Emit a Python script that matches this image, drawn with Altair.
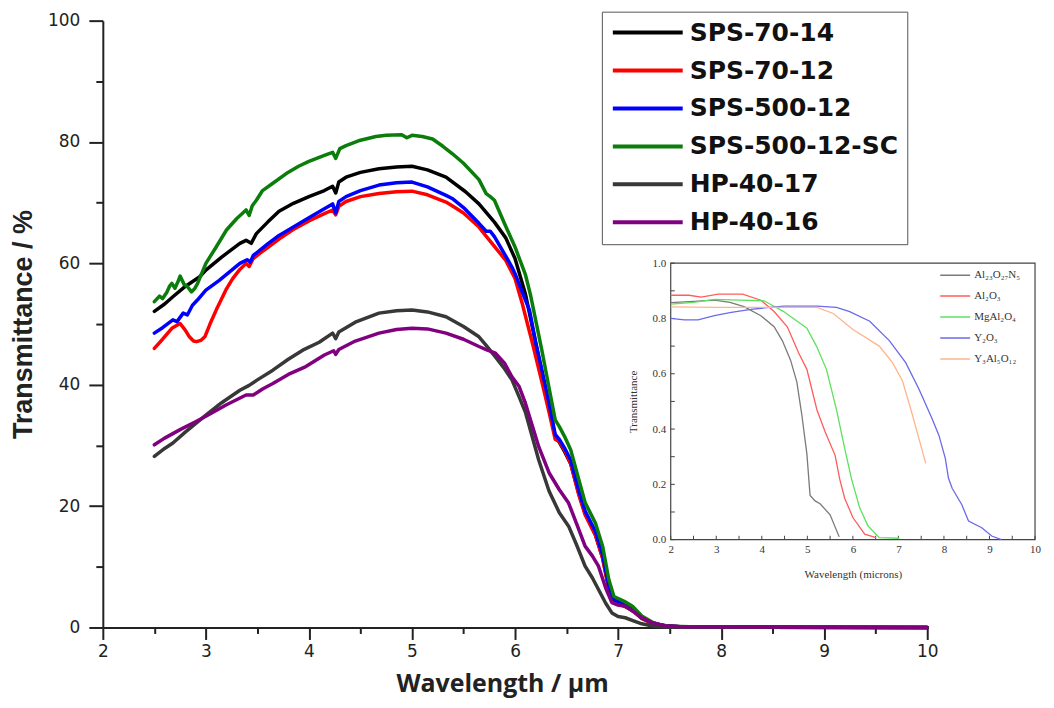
import altair as alt
import pandas as pd

# ---------------- main chart data ----------------
series_names = ["SPS-70-14", "SPS-70-12", "SPS-500-12", "SPS-500-12-SC", "HP-40-17", "HP-40-16"]
series_colors = ["#000000", "#ff0000", "#0000ff", "#0b7d0b", "#383838", "#800080"]

wl_sps_70_14 = [2.5, 2.6, 2.68, 2.8, 2.94, 3.0, 3.15, 3.33, 3.39, 3.44, 3.49, 3.6, 3.71, 3.85, 4.0, 4.15, 4.23, 4.26, 4.29,
                4.36, 4.5, 4.68, 4.85, 5.0, 5.15, 5.33, 5.52, 5.65, 5.8, 5.91, 6.0, 6.1, 6.2, 6.26, 6.33, 6.39, 6.43, 6.48,
                6.54, 6.62, 6.68, 6.78, 6.85, 6.91, 6.96, 7.06, 7.14, 7.23, 7.33, 7.45, 7.6, 8.0, 10.0]
t_sps_70_14 = [52.1, 53.3, 54.5, 56.2, 57.8, 58.9, 61.0, 63.3, 63.8, 63.3, 64.9, 66.8, 68.6, 69.9, 71.0, 72.0, 72.7, 71.6, 73.4,
               74.2, 75.0, 75.6, 75.9, 76.0, 75.4, 74.2, 71.8, 69.8, 66.8, 64.2, 60.8, 55.0, 47.0, 42.0, 36.5, 31.5, 30.5, 29.0,
               27.0, 22.0, 18.8, 15.3, 11.5, 6.4, 4.3, 3.6, 2.9, 1.5, 0.7, 0.3, 0.1, 0.05, 0.0]

wl_sps_70_12 = [2.5, 2.58, 2.67, 2.72, 2.75, 2.8, 2.84, 2.88, 2.91, 2.95, 2.99, 3.04, 3.1, 3.2, 3.26, 3.33, 3.39, 3.42, 3.46,
                3.52, 3.6, 3.71, 3.84, 4.0, 4.15, 4.23, 4.26, 4.29, 4.36, 4.5, 4.68, 4.85, 5.0, 5.15, 5.33, 5.39, 5.5, 5.65,
                5.68, 5.8, 5.91, 6.0, 6.07, 6.1, 6.17, 6.26, 6.33, 6.39, 6.43, 6.48, 6.54, 6.62, 6.68, 6.78, 6.85, 6.91,
                6.96, 7.06, 7.14, 7.23, 7.33, 7.45, 7.6, 8.0, 10.0]
t_sps_70_12 = [46.0, 47.5, 49.3, 49.8, 50.1, 49.0, 47.9, 47.2, 47.1, 47.3, 47.9, 50.0, 52.3, 55.8, 57.5, 59.0, 60.0, 59.5, 60.8,
               61.6, 62.6, 64.0, 65.5, 67.0, 68.2, 68.8, 68.0, 69.4, 70.2, 71.0, 71.5, 71.8, 71.9, 71.3, 70.1, 69.5, 68.3, 66.0,
               65.3, 62.8, 60.5, 57.5, 53.4, 51.4, 46.8, 40.5, 35.5, 31.0, 30.6, 29.3, 27.0, 21.8, 18.6, 15.2, 11.4, 6.4,
               4.3, 3.5, 2.8, 1.5, 0.7, 0.3, 0.1, 0.05, 0.0]

wl_sps_500_12 = [2.5, 2.58, 2.68, 2.72, 2.78, 2.82, 2.87, 2.92, 3.0, 3.13, 3.33, 3.4, 3.43, 3.46, 3.6, 3.71, 3.78, 4.0, 4.15,
                 4.23, 4.26, 4.29, 4.36, 4.5, 4.68, 4.85, 5.0, 5.15, 5.33, 5.39, 5.5, 5.65, 5.72, 5.76, 5.8, 5.9, 5.97, 6.0,
                 6.1, 6.14, 6.2, 6.26, 6.33, 6.39, 6.43, 6.48, 6.54, 6.62, 6.68, 6.78, 6.85, 6.91, 6.96, 7.06, 7.14, 7.23,
                 7.33, 7.45, 7.6, 8.0, 10.0]
t_sps_500_12 = [48.5, 49.4, 50.7, 50.4, 51.8, 51.5, 53.1, 54.0, 55.6, 57.2, 60.0, 60.6, 60.2, 61.3, 63.2, 64.6, 65.3, 67.5, 69.0,
                69.8, 68.3, 70.2, 71.0, 72.0, 72.9, 73.3, 73.4, 72.6, 71.2, 70.7, 69.2, 66.6, 65.3, 65.3, 64.4, 61.5, 59.4, 58.3,
                54.0, 52.3, 47.0, 42.5, 37.0, 31.8, 31.0, 29.6, 27.6, 22.5, 19.2, 15.8, 12.0, 6.8, 4.6, 3.8, 3.1, 1.6,
                0.8, 0.3, 0.1, 0.05, 0.0]

wl_sps_500_12_sc = [2.5, 2.55, 2.58, 2.62, 2.65, 2.67, 2.7, 2.73, 2.75, 2.79, 2.82, 2.86, 2.89, 2.92, 3.0, 3.1, 3.2, 3.3, 3.39,
                    3.42, 3.45, 3.49, 3.55, 3.65, 3.78, 3.9, 4.0, 4.15, 4.23, 4.26, 4.3, 4.36, 4.5, 4.65, 4.75, 4.9, 4.95,
                    5.0, 5.1, 5.2, 5.3, 5.39, 5.5, 5.65, 5.72, 5.76, 5.8, 5.9, 6.0, 6.1, 6.15, 6.2, 6.26, 6.33, 6.39, 6.43, 6.48,
                    6.54, 6.62, 6.68, 6.78, 6.85, 6.91, 6.96, 7.06, 7.14, 7.23, 7.33, 7.39, 7.5, 7.7, 8.0, 10.0]
t_sps_500_12_sc = [53.7, 54.6, 54.2, 55.2, 56.3, 56.7, 55.9, 57.0, 57.9, 56.5, 56.2, 55.3, 55.8, 56.7, 60.0, 62.7, 65.5, 67.4, 68.8,
                   67.9, 69.5, 70.4, 72.0, 73.2, 74.8, 76.0, 76.8, 77.8, 78.3, 77.3, 78.9, 79.4, 80.3, 80.9, 81.1, 81.2, 80.7,
                   81.1, 80.9, 80.5, 79.3, 78.1, 76.5, 73.8, 71.5, 71.0, 70.4, 66.5, 62.7, 58.2, 54.8, 50.7, 45.7, 39.5, 34.2, 33.1, 31.5,
                   29.3, 24.3, 20.6, 17.2, 13.4, 7.9, 5.1, 4.3, 3.5, 1.9, 0.9, 0.5, 0.2, 0.1, 0.05, 0.0]

wl_hp_40_17 = [2.5, 2.6, 2.68, 2.8, 2.9, 3.0, 3.15, 3.33, 3.42, 3.5, 3.65, 3.8, 3.94, 4.1, 4.23, 4.26, 4.29, 4.45, 4.68, 4.85,
               5.0, 5.15, 5.33, 5.5, 5.65, 5.72, 5.8, 5.9, 5.97, 6.04, 6.1, 6.23, 6.33, 6.43, 6.52, 6.6, 6.68, 6.75, 6.81,
               6.88, 6.94, 7.0, 7.07, 7.15, 7.23, 7.35, 7.5, 10.0]
t_hp_40_17 = [28.2, 29.5, 30.4, 32.2, 33.6, 35.0, 37.0, 39.1, 39.9, 40.8, 42.4, 44.2, 45.7, 47.0, 48.5, 47.6, 48.7, 50.3, 51.8, 52.2,
              52.3, 52.0, 51.2, 49.6, 47.9, 46.5, 44.8, 42.6, 40.8, 38.0, 35.5, 27.6, 22.5, 18.9, 16.7, 13.5, 10.1, 8.2, 6.25,
              4.0, 2.4, 1.8, 1.6, 1.1, 0.6, 0.2, 0.05, 0.0]

wl_hp_40_16 = [2.5, 2.6, 2.75, 2.9, 3.0, 3.2, 3.39, 3.46, 3.55, 3.65, 3.8, 3.97, 4.15, 4.24, 4.26, 4.29, 4.45, 4.68, 4.85, 5.0,
               5.15, 5.33, 5.5, 5.65, 5.72, 5.81, 5.9, 5.97, 6.04, 6.1, 6.23, 6.33, 6.43, 6.52, 6.6, 6.68, 6.75, 6.81, 6.88,
               6.94, 7.0, 7.07, 7.15, 7.23, 7.33, 7.45, 7.6, 10.0]
t_hp_40_16 = [30.1, 31.2, 32.6, 33.9, 34.8, 36.7, 38.3, 38.3, 39.3, 40.2, 41.7, 43.0, 44.9, 45.6, 45.0, 45.8, 47.2, 48.5, 49.1, 49.3,
              49.2, 48.5, 47.5, 46.3, 45.8, 45.2, 43.5, 41.3, 39.7, 37.0, 29.8, 25.5, 22.7, 20.5, 17.0, 13.4, 11.8, 10.1, 6.5,
              4.1, 3.7, 3.5, 2.6, 1.6, 0.8, 0.3, 0.1, 0.0]

main_x = [wl_sps_70_14, wl_sps_70_12, wl_sps_500_12, wl_sps_500_12_sc, wl_hp_40_17, wl_hp_40_16]
main_y = [t_sps_70_14, t_sps_70_12, t_sps_500_12, t_sps_500_12_sc, t_hp_40_17, t_hp_40_16]

x_tick_values = [2 + 0.5 * i for i in range(17)]
y_tick_values = [10 * i for i in range(11)]

# ---------------- inset data ----------------
inset_names = ["Al\u2082\u2083O\u2082\u2087N\u2085", "Al\u2082O\u2083", "MgAl\u2082O\u2084", "Y\u2082O\u2083", "Y\u2083Al\u2085O\u2081\u2082"]
inset_colors = ["#7a7a7a", "#ff5c5c", "#5ee05e", "#6a6aea", "#ffb48c"]

wl_alon = [2.0, 2.5, 2.96, 3.3, 3.61, 3.98, 4.27, 4.45, 4.63, 4.77, 4.88, 4.99, 5.06, 5.17, 5.28, 5.5, 5.70]
t_alon = [0.857, 0.862, 0.866, 0.858, 0.843, 0.81, 0.77, 0.72, 0.65, 0.57, 0.45, 0.31, 0.16, 0.14, 0.13, 0.09, 0.01]
wl_al2o3 = [2.0, 2.4, 2.67, 3.04, 3.58, 3.98, 4.27, 4.56, 4.81, 4.99, 5.21, 5.39, 5.61, 5.71, 5.82, 6.0, 6.26, 6.51]
t_al2o3 = [0.884, 0.884, 0.877, 0.888, 0.888, 0.866, 0.825, 0.77, 0.675, 0.616, 0.47, 0.39, 0.305, 0.22, 0.15, 0.08, 0.02, 0.007]
wl_spinel = [2.0, 2.5, 2.96, 3.5, 4.05, 4.48, 4.99, 5.2, 5.42, 5.64, 5.82, 5.97, 6.15, 6.33, 6.58, 7.02]
t_spinel = [0.852, 0.858, 0.869, 0.866, 0.864, 0.825, 0.765, 0.70, 0.616, 0.47, 0.33, 0.22, 0.115, 0.05, 0.007, 0.005]
wl_y2o3 = [2.0, 2.3, 2.6, 2.96, 3.33, 3.76, 4.48, 5.21, 5.64, 5.93, 6.37, 6.80, 7.16, 7.45, 7.74, 7.89, 8.03, 8.10, 8.18,
           8.39, 8.54, 8.83, 9.05, 9.26]
t_y2o3 = [0.80, 0.795, 0.795, 0.81, 0.822, 0.833, 0.845, 0.845, 0.84, 0.825, 0.79, 0.72, 0.64, 0.545, 0.437, 0.377, 0.294,
          0.222, 0.186, 0.127, 0.067, 0.043, 0.013, 0.0]
wl_yag = [2.0, 3.04, 4.48, 5.21, 5.57, 6.0, 6.58, 6.87, 7.09, 7.31, 7.6]
t_yag = [0.842, 0.84, 0.84, 0.84, 0.818, 0.76, 0.70, 0.64, 0.574, 0.45, 0.276]

inset_x = [wl_alon, wl_al2o3, wl_spinel, wl_y2o3, wl_yag]
inset_y = [t_alon, t_al2o3, t_spinel, t_y2o3, t_yag]

inset_x_domain = [2, 10]
inset_y_domain = [0, 1]
inset_x_ticks = [2 + 0.5 * i for i in range(17)]
inset_y_ticks = [round(0.1 * i, 1) for i in range(11)]

# ---------------- tables ----------------
rows = []
for name, xs, ys in zip(series_names, main_x, main_y):
    for x, y in zip(xs, ys):
        rows.append({"series": name, "wl": x, "t": y})
main_df = pd.DataFrame(rows)

irows = []
for name, xs, ys in zip(inset_names, inset_x, inset_y):
    for x, y in zip(xs, ys):
        irows.append({"material": name, "wl": x, "t": y})
inset_df = pd.DataFrame(irows)

frame_df = pd.DataFrame([{"x0": inset_x_domain[0], "x1": inset_x_domain[1],
                          "y0": inset_y_domain[0], "y1": inset_y_domain[1]}])

# ---------------- geometry ----------------
W, H = 826, 608
INSET_X_RANGE = [569, 934]
INSET_Y_RANGE = [520, 243]

AX = "#222222"

x_axis = alt.Axis(
    values=x_tick_values,
    labelExpr="datum.value % 1 === 0 ? format(datum.value, 'd') : ''",
    grid=False,
    tickSize={"condition": {"test": "datum.value % 1 === 0", "value": 12}, "value": 6},
    tickWidth=2, tickColor=AX,
    domainWidth=2, domainColor=AX,
    labelFont="DejaVu Sans", labelFontSize=17, labelColor=AX, labelPadding=4,
    labelFlush=False, labelOverlap=False,
    title="Wavelength / \u00b5m", titleFont="Open Sans", titleFontSize=25, titleFontWeight="bold",
    titleColor=AX, titleX=400, titleY=64, titleBaseline="alphabetic",
)
y_axis = alt.Axis(
    values=y_tick_values,
    labelExpr="datum.value % 20 === 0 ? format(datum.value, 'd') : ''",
    grid=False,
    tickSize={"condition": {"test": "datum.value % 20 === 0", "value": 14}, "value": 7},
    tickWidth=2, tickColor=AX,
    domainWidth=2, domainColor=AX,
    labelFont="DejaVu Sans", labelFontSize=17, labelColor=AX, labelPadding=9,
    labelFlush=False, labelOverlap=False,
    title="Transmittance / %", titleFont="Liberation Sans", titleFontSize=27, titleFontWeight="bold",
    titleColor=AX, titlePadding=10,
)

main = alt.Chart(main_df).mark_line(strokeWidth=3.5, strokeJoin="round", strokeCap="round").encode(
    x=alt.X("wl:Q", scale=alt.Scale(domain=[2, 10], nice=False, zero=False), axis=x_axis),
    y=alt.Y("t:Q", scale=alt.Scale(domain=[0, 100], nice=False), axis=y_axis),
    color=alt.Color("series:N", sort=series_names,
                    scale=alt.Scale(domain=series_names, range=series_colors),
                    legend=alt.Legend(orient="none", legendX=500, legendY=-9, title=None,
                                      symbolType="stroke", symbolStrokeWidth=4, symbolSize=4900,
                                      clipHeight=24, rowPadding=13, padding=9, labelOffset=5,
                                      labelFont="DejaVu Sans", labelFontWeight="bold", labelFontSize=25,
                                      labelColor="#111111", labelLimit=400,
                                      strokeColor="#555555", fillColor="white")),
)

IN_TXT = "#333333"
inset_xscale = alt.Scale(domain=inset_x_domain, range=INSET_X_RANGE, nice=False, zero=False)
inset_yscale = alt.Scale(domain=inset_y_domain, range=INSET_Y_RANGE, nice=False)

inset_xaxis = alt.Axis(
    orient="bottom", offset=INSET_Y_RANGE[0] - H, values=inset_x_ticks,
    labelExpr="datum.value % 1 === 0 ? format(datum.value, 'd') : ''",
    grid=False, domain=False, ticks=False,
    labelFont="Liberation Serif", labelFontSize=11, labelColor=IN_TXT, labelPadding=4,
    labelFlush=False, labelOverlap=False,
    title="Wavelength (microns)", titleFont="Liberation Serif", titleFontSize=11,
    titleFontWeight="normal", titleColor=IN_TXT, titlePadding=14,
)
inset_yaxis = alt.Axis(
    orient="left", offset=-INSET_X_RANGE[0], values=inset_y_ticks,
    labelExpr="round(datum.value * 10) % 2 === 0 ? format(datum.value, '.1f') : ''",
    grid=False, domain=False, ticks=False,
    labelFont="Liberation Serif", labelFontSize=11, labelColor=IN_TXT, labelPadding=5,
    labelFlush=False, labelOverlap=False,
    title="Transmittance", titleFont="Liberation Serif", titleFontSize=11,
    titleFontWeight="normal", titleColor=IN_TXT, titlePadding=14,
)

frame = alt.Chart(frame_df).mark_rect(fill="white", stroke="#444444", strokeWidth=1.2).encode(
    x=alt.X("x0:Q", scale=inset_xscale, axis=inset_xaxis),
    x2="x1:Q",
    y=alt.Y("y0:Q", scale=inset_yscale, axis=inset_yaxis),
    y2="y1:Q",
)

# inward tick marks of the inset (drawn in data units of the inset scales)
xt_df = pd.DataFrame({"v": inset_x_ticks, "y0": 0.0, "y1": 0.014})
yt_df = pd.DataFrame({"v": inset_y_ticks, "x0": 2.0, "x1": 2.09})
inset_xticks = alt.Chart(xt_df).mark_rule(color="#444444", strokeWidth=1).encode(
    x=alt.X("v:Q", scale=inset_xscale, axis=inset_xaxis),
    y=alt.Y("y0:Q", scale=inset_yscale, axis=inset_yaxis), y2="y1:Q")
inset_yticks = alt.Chart(yt_df).mark_rule(color="#444444", strokeWidth=1).encode(
    y=alt.Y("v:Q", scale=inset_yscale, axis=inset_yaxis),
    x=alt.X("x0:Q", scale=inset_xscale, axis=inset_xaxis), x2="x1:Q")

inset_lines = alt.Chart(inset_df).mark_line(strokeWidth=1.3).encode(
    x=alt.X("wl:Q", scale=inset_xscale, axis=inset_xaxis),
    y=alt.Y("t:Q", scale=inset_yscale, axis=inset_yaxis),
    color=alt.Color("material:N", sort=inset_names,
                    scale=alt.Scale(domain=inset_names, range=inset_colors),
                    legend=alt.Legend(orient="none", legendX=838, legendY=248, title=None,
                                      symbolType="stroke", symbolStrokeWidth=1.5, symbolSize=900,
                                      clipHeight=14, rowPadding=7, padding=0, labelOffset=3,
                                      labelFont="Liberation Serif", labelFontSize=11, labelColor=IN_TXT)),
)

inset = alt.layer(frame, inset_xticks, inset_yticks, inset_lines)

chart = alt.layer(main, inset).resolve_scale(
    x="independent", y="independent", color="independent"
).properties(
    width=W, height=H,
    autosize=alt.AutoSizeParams(type="none"),
    padding={"left": 95, "top": 12, "right": 119, "bottom": 72},
    background="white",
).configure_view(stroke=None)

chart.save("out.html", embed_options={"renderer": "svg", "actions": False})
